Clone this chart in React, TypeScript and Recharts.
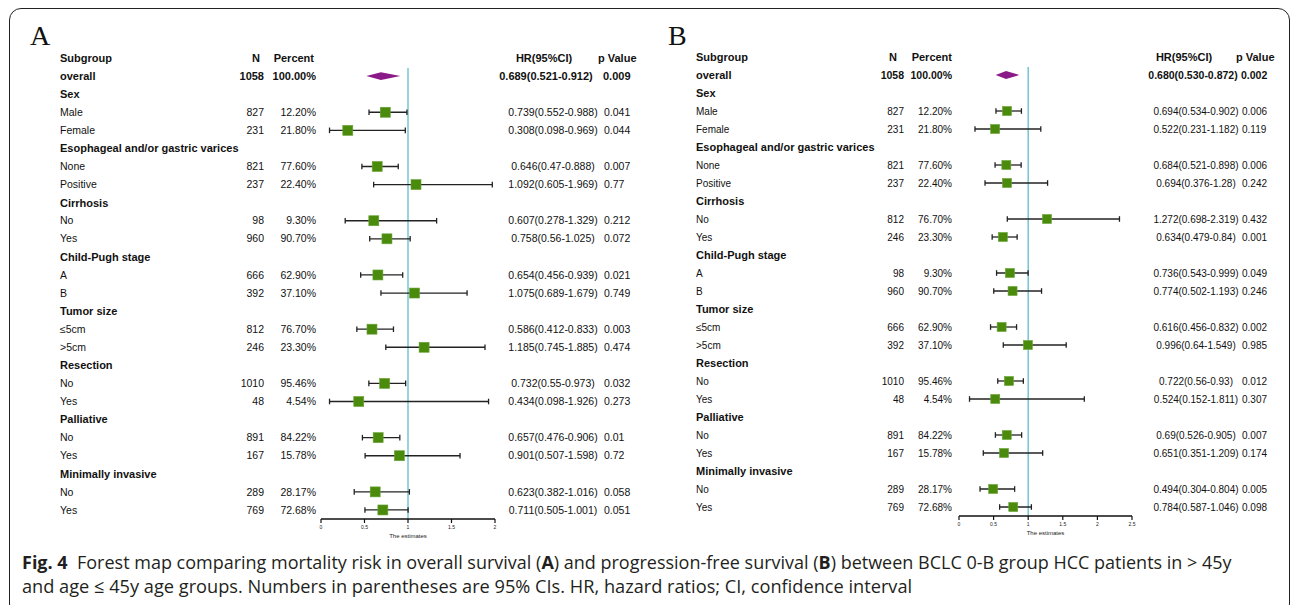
import React, { useLayoutEffect, useRef, useState } from 'react';
import { ComposedChart, Scatter, ErrorBar, XAxis, YAxis, ReferenceLine, ReferenceArea } from 'recharts';

// rows below the column header (row 0)
const subgroups = [
  'overall', 'Sex', 'Male', 'Female', 'Esophageal and/or gastric varices', 'None', 'Positive',
  'Cirrhosis', 'No', 'Yes', 'Child-Pugh stage', 'A', 'B', 'Tumor size', '≤5cm', '>5cm',
  'Resection', 'No', 'Yes', 'Palliative', 'No', 'Yes', 'Minimally invasive', 'No', 'Yes',
];

// A: overall survival
const nA = [1058, null, 827, 231, null, 821, 237, null, 98, 960, null, 666, 392, null, 812, 246, null, 1010, 48, null, 891, 167, null, 289, 769];
const pctA = [100, null, 12.2, 21.8, null, 77.6, 22.4, null, 9.3, 90.7, null, 62.9, 37.1, null, 76.7, 23.3, null, 95.46, 4.54, null, 84.22, 15.78, null, 28.17, 72.68];
const hrA = [0.689, null, 0.739, 0.308, null, 0.646, 1.092, null, 0.607, 0.758, null, 0.654, 1.075, null, 0.586, 1.185, null, 0.732, 0.434, null, 0.657, 0.901, null, 0.623, 0.711];
const loA = [0.521, null, 0.552, 0.098, null, 0.47, 0.605, null, 0.278, 0.56, null, 0.456, 0.689, null, 0.412, 0.745, null, 0.55, 0.098, null, 0.476, 0.507, null, 0.382, 0.505];
const hiA = [0.912, null, 0.988, 0.969, null, 0.888, 1.969, null, 1.329, 1.025, null, 0.939, 1.679, null, 0.833, 1.885, null, 0.973, 1.926, null, 0.906, 1.598, null, 1.016, 1.001];
const pA = [0.009, null, 0.041, 0.044, null, 0.007, 0.77, null, 0.212, 0.072, null, 0.021, 0.749, null, 0.003, 0.474, null, 0.032, 0.273, null, 0.01, 0.72, null, 0.058, 0.051];
const ticksA = [0, 0.5, 1, 1.5, 2];

// B: progression-free survival
const nB = [1058, null, 827, 231, null, 821, 237, null, 812, 246, null, 98, 960, null, 666, 392, null, 1010, 48, null, 891, 167, null, 289, 769];
const pctB = [100, null, 12.2, 21.8, null, 77.6, 22.4, null, 76.7, 23.3, null, 9.3, 90.7, null, 62.9, 37.1, null, 95.46, 4.54, null, 84.22, 15.78, null, 28.17, 72.68];
const hrB = [0.68, null, 0.694, 0.522, null, 0.684, 0.694, null, 1.272, 0.634, null, 0.736, 0.774, null, 0.616, 0.996, null, 0.722, 0.524, null, 0.69, 0.651, null, 0.494, 0.784];
const loB = [0.53, null, 0.534, 0.231, null, 0.521, 0.376, null, 0.698, 0.479, null, 0.543, 0.502, null, 0.456, 0.64, null, 0.56, 0.152, null, 0.526, 0.351, null, 0.304, 0.587];
const hiB = [0.872, null, 0.902, 1.182, null, 0.898, 1.28, null, 2.319, 0.84, null, 0.999, 1.193, null, 0.832, 1.549, null, 0.93, 1.811, null, 0.905, 1.209, null, 0.804, 1.046];
const pB = [0.002, null, 0.006, 0.119, null, 0.006, 0.242, null, 0.432, 0.001, null, 0.049, 0.246, null, 0.002, 0.985, null, 0.012, 0.307, null, 0.007, 0.174, null, 0.005, 0.098];
const ticksB = [0, 0.5, 1, 1.5, 2, 2.5];

const FONT = '"Liberation Sans", Arial, Helvetica, sans-serif';
const CAPTION_FONT = '"Open Sans", "Noto Sans", sans-serif';
const BOX = '#4b8b0c';
const DIAMOND = '#8b1a89';
const REF = '#74c6d2';
const rowIdx = Array.from({ length: subgroups.length + 1 }, (_, i) => i);

interface Panel {
  letter: string;
  left: number; width: number; height: number;
  margin: { top: number; right: number; bottom: number; left: number };
  ticks: number[];
  n: (number | null)[]; pct: (number | null)[]; hr: (number | null)[];
  lo: (number | null)[]; hi: (number | null)[]; p: (number | null)[];
  cols: { sub: number; nHead: number; n: number; pctHead: number; pct: number; hrHead: number; hr: number; hrOverall: number; pHead: number; p: number; pOverall: number };
  fs: { overall: number; body: number };
  box: number;
}

const panels: Panel[] = [
  {
    letter: 'A', left: 0, width: 640, height: 545,
    margin: { top: 49, right: 145, bottom: 0, left: 321 },
    ticks: ticksA, n: nA, pct: pctA, hr: hrA, lo: loA, hi: hiA, p: pA,
    cols: { sub: 60, nHead: 260, n: 264, pctHead: 314, pct: 316, hrHead: 544, hr: 553, hrOverall: 546, pHead: 598, p: 604, pOverall: 603 },
    fs: { overall: 11, body: 10.5 },
    box: 10,
  },
  {
    letter: 'B', left: 640, width: 652, height: 542,
    margin: { top: 48, right: 160, bottom: 0, left: 319 },
    ticks: ticksB, n: nB, pct: pctB, hr: hrB, lo: loB, hi: hiB, p: pB,
    cols: { sub: 696, nHead: 897, n: 904, pctHead: 952, pct: 952, hrHead: 1184, hr: 1196, hrOverall: 1193, pHead: 1236, p: 1242, pOverall: 1241 },
    fs: { overall: 10.5, body: 10 },
    box: 9,
  },
];

const hrText = (hr: number, lo: number, hi: number, fixed: boolean) =>
  fixed ? `${hr.toFixed(3)}(${lo.toFixed(3)}-${hi.toFixed(3)})` : `${hr}(${lo}-${hi})`;

// draws one table row; y comes from the chart's own y scale
function makeRowShape(pn: Panel) {
  return (props: any) => {
    const y = props.cy;
    const row = props.payload.y as number;
    const c = pn.cols;
    const o = pn.left;
    const base = { fontFamily: FONT, fontSize: 11, fill: '#111', dy: '0.35em' } as any;
    if (row === 0) {
      return (
        <g>
          <text {...base} x={c.sub - o} y={y} fontWeight="bold">Subgroup</text>
          <text {...base} x={c.nHead - o} y={y} fontWeight="bold" textAnchor="end">N</text>
          <text {...base} x={c.pctHead - o} y={y} fontWeight="bold" textAnchor="end">Percent</text>
          <text {...base} x={c.hrHead - o} y={y} fontWeight="bold" textAnchor="middle">HR(95%CI)</text>
          <text {...base} x={c.pHead - o} y={y} fontWeight="bold">p Value</text>
        </g>
      );
    }
    const i = row - 1;
    const n = pn.n[i];
    if (n === null) {
      return <text {...base} x={c.sub - o} y={y} fontWeight="bold">{subgroups[i]}</text>;
    }
    const overall = i === 0;
    const w = overall ? 'bold' : 'normal';
    const fs = overall ? pn.fs.overall : pn.fs.body;
    return (
      <g>
        <text {...base} fontSize={overall ? 11 : fs} x={c.sub - o} y={y} fontWeight={w}>{subgroups[i]}</text>
        <text {...base} fontSize={fs} x={c.n - o} y={y} fontWeight={w} textAnchor="end">{n}</text>
        <text {...base} fontSize={fs} x={c.pct - o} y={y} fontWeight={w} textAnchor="end">{(pn.pct[i] as number).toFixed(2)}%</text>
        <text {...base} fontSize={fs} x={(overall ? c.hrOverall : c.hr) - o} y={y} fontWeight={w} textAnchor="middle">
          {hrText(pn.hr[i] as number, pn.lo[i] as number, pn.hi[i] as number, overall)}
        </text>
        <text {...base} fontSize={fs} x={(overall ? c.pOverall : c.p) - o} y={y} fontWeight={w}>{String(pn.p[i])}</text>
      </g>
    );
  };
}

function ForestPanel({ pn }: { pn: Panel }) {
  const points = pn.hr
    .map((hr, i) => (i > 0 && hr !== null
      ? { x: hr, y: i + 1, err: [hr - (pn.lo[i] as number), (pn.hi[i] as number) - hr] }
      : null))
    .filter(Boolean) as any[];
  const rows = rowIdx.map((r) => ({ x: 0, y: r }));
  const oHr = pn.hr[0] as number;
  const oLo = pn.lo[0] as number;
  const oHi = pn.hi[0] as number;
  const half = pn.box / 2;
  const last = pn.ticks[pn.ticks.length - 1];

  return (
    <div style={{ position: 'absolute', left: pn.left, top: 0 }}>
      <ComposedChart width={pn.width} height={pn.height} margin={pn.margin}>
        <XAxis
          type="number" dataKey="x" domain={[0, last]} ticks={pn.ticks} height={26}
          axisLine={{ stroke: '#111', strokeWidth: 1.5 }}
          tickLine={{ stroke: '#111', strokeWidth: 1.2 }} tickSize={4}
          tick={{ fontSize: 5, fill: '#222', fontFamily: FONT }}
          label={{ value: 'The estimates', position: 'insideBottom', offset: 7, fontSize: 6, fill: '#222', fontFamily: FONT }}
        />
        <YAxis
          type="number" dataKey="y" domain={[-0.5, subgroups.length + 0.5]} reversed
          width={0} hide
        />
        <Scatter data={rows} isAnimationActive={false} shape={makeRowShape(pn)} />
        <ReferenceLine segment={[{ x: 1, y: 0.55 }, { x: 1, y: subgroups.length + 0.5 }]} stroke={REF} strokeWidth={1.5} />
        <ReferenceArea
          x1={oLo} x2={oHi} y1={1 - 0.22} y2={1 + 0.22}
          shape={(p: any) => {
            const mid = p.x + (p.width * (oHr - oLo)) / (oHi - oLo);
            const cy = p.y + p.height / 2;
            return <polygon points={`${p.x},${cy} ${mid},${p.y} ${p.x + p.width},${cy} ${mid},${p.y + p.height}`} fill={DIAMOND} />;
          }}
        />
        <Scatter
          data={points} isAnimationActive={false}
          shape={(p: any) => <rect x={p.cx - half} y={p.cy - half} width={pn.box} height={pn.box} fill={BOX} stroke="#6aa33a" strokeWidth={0.6} />}
        >
          <ErrorBar dataKey="err" direction="x" width={2.8} stroke="#222" strokeWidth={1.3} />
        </Scatter>
      </ComposedChart>
      <div style={{ position: 'absolute', left: pn.letter === 'A' ? 30 : 28, top: 21, fontFamily: '"Liberation Serif", "Times New Roman", serif', fontSize: 28, lineHeight: '30px', color: '#111' }}>
        {pn.letter}
      </div>
    </div>
  );
}

// caption line squeezed horizontally to the width it has in the reference
function FitLine({ top, width, children }: { top: number; width: number; children: React.ReactNode }) {
  const ref = useRef<HTMLDivElement>(null);
  const [k, setK] = useState(1);
  useLayoutEffect(() => {
    if (ref.current && ref.current.scrollWidth > 0) setK(width / ref.current.scrollWidth);
  }, [width]);
  return (
    <div
      ref={ref}
      style={{
        position: 'absolute', left: 22, top, whiteSpace: 'nowrap', fontFamily: CAPTION_FONT, fontSize: 18.5,
        lineHeight: '22px', color: '#231f20', transform: `scaleX(${k})`, transformOrigin: 'left top',
      }}
    >
      {children}
    </div>
  );
}

export default function App() {
  return (
    <div style={{ position: 'absolute', left: 0, top: 0, width: 1292, height: 605, background: '#fff', overflow: 'hidden' }}>
      <div style={{ position: 'absolute', left: 9, top: 8, width: 1279, height: 606, border: '1.3px solid #222', borderRadius: 12 }} />
      {panels.map((pn) => <ForestPanel key={pn.letter} pn={pn} />)}
      <FitLine top={551} width={1210}>
        <b>Fig. 4</b>{'\u00a0 Forest map comparing mortality risk in overall survival ('}<b>A</b>
        {') and progression-free survival ('}<b>B</b>{') between BCLC 0-B group HCC patients in > 45y'}
      </FitLine>
      <FitLine top={575} width={890}>
        and age ≤ 45y age groups. Numbers in parentheses are 95% CIs. HR, hazard ratios; CI, confidence interval
      </FitLine>
    </div>
  );
}
